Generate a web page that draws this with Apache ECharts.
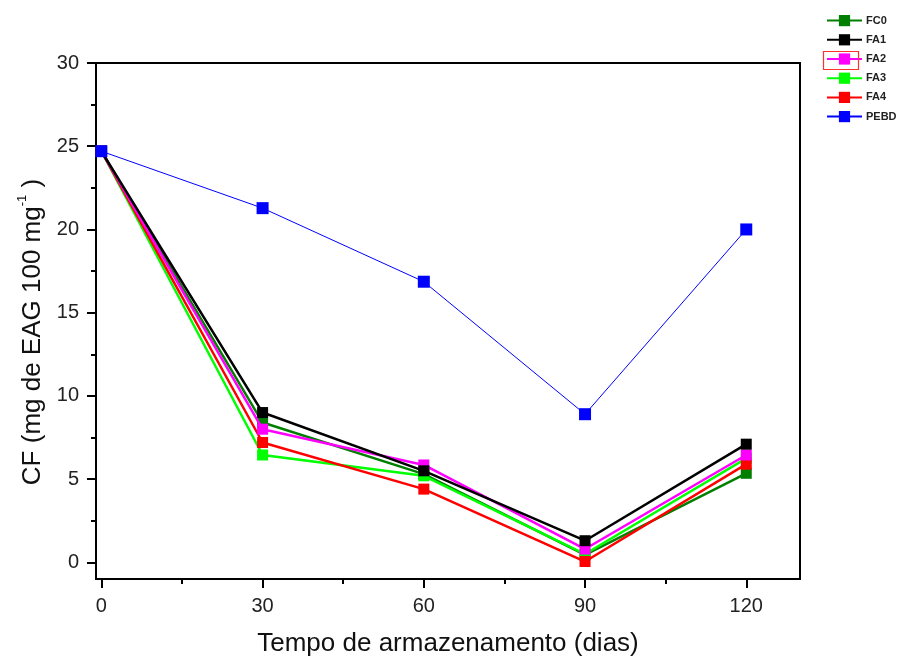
<!DOCTYPE html>
<html>
<head>
<meta charset="utf-8">
<script src="https://cdn.jsdelivr.net/npm/echarts@6/dist/echarts.min.js"></script>
<style>html,body{margin:0;padding:0;background:#fff}#c{width:900px;height:662px}</style>
</head>
<body>
<div id="c"></div>
<script>
const days = [0, 30, 60, 90, 120];
const FC0 = [24.7, 8.4, 5.3, 0.45, 5.35];
const FA1 = [24.7, 9.0, 5.5, 1.3, 7.1];
const FA2 = [24.7, 8.0, 5.85, 0.8, 6.45];
const FA3 = [24.7, 6.45, 5.2, 0.5, 6.25];
const FA4 = [24.7, 7.2, 4.4, 0.05, 5.9];
const PEBD = [24.7, 21.28, 16.86, 8.9, 20.0];
const yMajor = [0, 5, 10, 15, 20, 25, 30];
const yMinor = [2.5, 7.5, 12.5, 17.5, 22.5, 27.5];
const xMajor = [0, 30, 60, 90, 120];
const xMinor = [15, 45, 75, 105];

const pairs = arr => days.map((d, i) => [d, arr[i]]);
const font = '"Liberation Sans", Arial, sans-serif';

function mk(name, data, color, width, z, size) {
  return {
    name: name, type: 'line', data: pairs(data), z: z,
    symbol: 'rect', symbolSize: size || 11,
    lineStyle: {color: color, width: width},
    itemStyle: {color: color, borderWidth: 0},
    emphasis: {disabled: true}, animation: false
  };
}

const chart = echarts.init(document.getElementById('c'), null, {renderer: 'canvas'});
chart.setOption({
  backgroundColor: '#fff',
  animation: false,
  grid: {left: 96, top: 63, right: 100, bottom: 79, show: true, borderColor: '#000', borderWidth: 2, backgroundColor: 'transparent'},
  legend: {
    orient: 'vertical', left: 821, top: 10, itemWidth: 35, itemHeight: 14, itemGap: 8,
    textStyle: {fontFamily: font, fontSize: 11, fontWeight: 'bold', color: '#222', padding: [0,0,0,-1]},
    data: ['FC0','FA1','FA2','FA3','FA4','PEBD']
  },
  graphic: [{type: 'rect', left: 821, top: 49, shape: {width: 35, height: 18}, style: {fill: 'none', stroke: '#ff3030', lineWidth: 1.2}, z: 100}],
  xAxis: [{
    type: 'value', min: -1, max: 130, position: 'bottom',
    name: 'Tempo de armazenamento (dias)', nameLocation: 'middle', nameGap: 52,
    nameTextStyle: {fontFamily: font, fontSize: 26, color: '#111'},
    axisLine: {onZero: false, lineStyle: {color: '#000', width: 2}},
    axisTick: {show: true, inside: false, length: 9, lineStyle: {color: '#000', width: 2}, customValues: xMajor},
    axisLabel: {fontFamily: font, fontSize: 20, color: '#222', margin: 17, customValues: xMajor},
    splitLine: {show: false}
  }, {
    type: 'value', min: -1, max: 130, position: 'bottom', gridIndex: 0,
    axisLine: {show: false, onZero: false},
    axisTick: {show: true, inside: false, length: 5, lineStyle: {color: '#000', width: 2}, customValues: xMinor},
    axisLabel: {show: false, customValues: xMinor},
    splitLine: {show: false}
  }],
  yAxis: [{
    type: 'value', min: -1, max: 30, position: 'left',
    name: '{a|CF (mg de EAG 100 mg}{s|-1}{a| )}', nameLocation: 'middle', nameGap: 46,
    nameTextStyle: {fontFamily: font, fontSize: 26, color: '#111', padding: [0, 22, 0, 0],
      rich: {a: {fontFamily: font, fontSize: 26, color: '#111', lineHeight: 30, verticalAlign: 'bottom'},
             s: {fontFamily: font, fontSize: 13, color: '#111', lineHeight: 30, verticalAlign: 'top', padding: [0,0,12,0]}}},
    axisLine: {onZero: false, lineStyle: {color: '#000', width: 2}},
    axisTick: {show: true, inside: false, length: 9, lineStyle: {color: '#000', width: 2}, customValues: yMajor},
    axisLabel: {fontFamily: font, fontSize: 20, color: '#222', margin: 17, customValues: yMajor},
    splitLine: {show: false}
  }, {
    type: 'value', min: -1, max: 30, position: 'left',
    axisLine: {show: false, onZero: false},
    axisTick: {show: true, inside: false, length: 5, lineStyle: {color: '#000', width: 2}, customValues: yMinor},
    axisLabel: {show: false, customValues: yMinor},
    splitLine: {show: false}
  }],
  series: [
    mk('FC0', FC0, '#007f00', 2.5, 2),
    mk('FA3', FA3, '#00ff00', 2.5, 3),
    mk('FA4', FA4, '#ff0000', 2.5, 4),
    mk('FA2', FA2, '#ff00ff', 2.5, 5),
    mk('FA1', FA1, '#000000', 2.5, 6),
    mk('PEBD', PEBD, '#0000ff', 1, 7, 12)
  ]
});
</script>
</body>
</html>
